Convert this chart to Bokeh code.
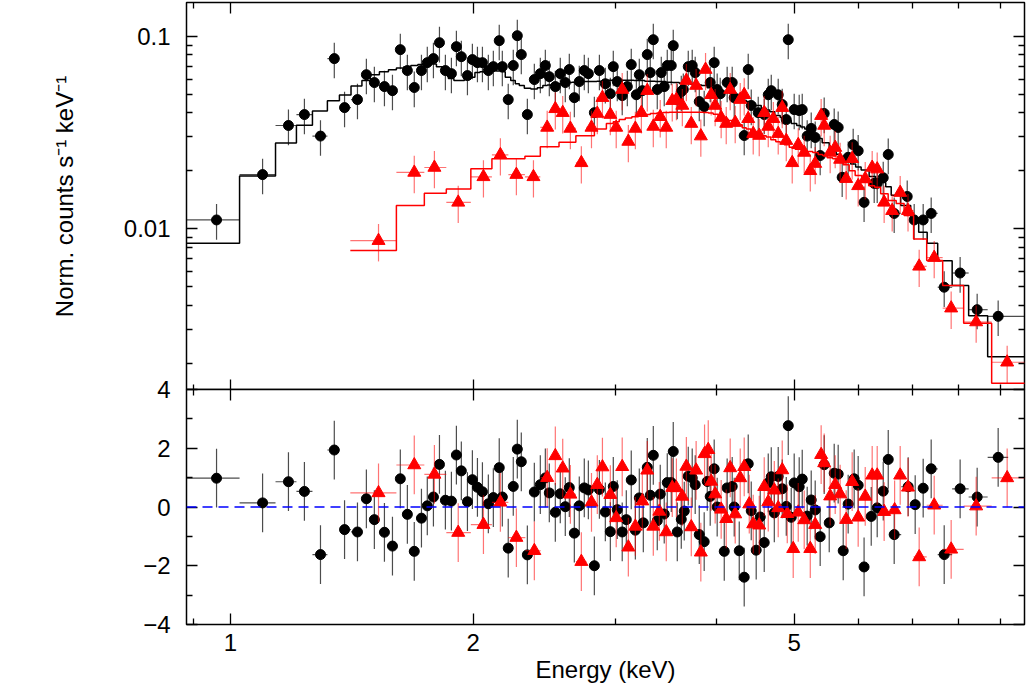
import numpy as np
from bokeh.plotting import figure
from bokeh.models import (LogAxis, LinearAxis, FixedTicker, CustomJSTickFormatter,
                          Span, Range1d, Label)
from bokeh.layouts import column
from bokeh.embed import file_html
from bokeh.resources import INLINE

FONT = "Liberation Sans"
FS = "24px"

# ---------------- axis ticks ----------------
x_major = [1, 2, 5]
x_minor = [0.9, 3, 4, 6, 7, 8, 9]
y_major = [0.01, 0.1]
y_minor = [0.002, 0.003, 0.004, 0.005, 0.006, 0.007, 0.008, 0.009,
           0.02, 0.03, 0.04, 0.05, 0.06, 0.07, 0.08, 0.09]
r_major = [-4, -2, 0, 2, 4]
r_minor = [-3, -1, 1, 3]

# ---------------- spectrum 1 (black) ----------------
black_E = [0.961, 1.096, 1.180, 1.235, 1.293, 1.345, 1.385, 1.437, 1.474, 1.508,
           1.552, 1.588, 1.624, 1.657, 1.690, 1.725, 1.754, 1.785, 1.816, 1.847,
           1.879, 1.906, 1.933, 1.967, 1.995, 2.024, 2.053, 2.088, 2.118, 2.154,
           2.173, 2.210, 2.242, 2.268, 2.294, 2.334, 2.381, 2.422, 2.457, 2.485,
           2.528, 2.564, 2.601, 2.631, 2.669, 2.707, 2.746, 2.778, 2.826, 2.867,
           2.916, 2.958, 2.983, 3.017, 3.060, 3.105, 3.140, 3.186, 3.213, 3.241,
           3.287, 3.315, 3.344, 3.382, 3.421, 3.450, 3.480, 3.520, 3.540, 3.581,
           3.622, 3.643, 3.695, 3.737, 3.769, 3.813, 3.867, 3.934, 3.979, 4.013,
           4.048, 4.129, 4.189, 4.213, 4.335, 4.385, 4.423, 4.512, 4.590, 4.643,
           4.683, 4.777, 4.832, 4.888, 4.916, 5.000, 5.072, 5.116, 5.189, 5.249,
           5.309, 5.385, 5.447, 5.605, 5.669, 5.734, 5.833, 5.917, 6.002, 6.104,
           6.283, 6.337, 6.447, 6.540, 6.652, 6.904, 7.043, 7.226, 7.393, 7.673,
           8.030, 8.430, 8.951]
black_F = [0.0111, 0.0191, 0.0344, 0.0392, 0.0303, 0.0766, 0.0426, 0.0469, 0.0632, 0.0575,
           0.0548, 0.0522, 0.0853, 0.0664, 0.0542, 0.0664, 0.0730, 0.0766, 0.0927, 0.0664,
           0.0640, 0.0884, 0.0784, 0.0625, 0.0757, 0.0730, 0.0730, 0.0664, 0.0696, 0.0950,
           0.0696, 0.0469, 0.0705, 0.1008, 0.0804, 0.0392, 0.0596, 0.0640, 0.0705, 0.0617,
           0.0548, 0.0640, 0.0575, 0.0672, 0.0480, 0.0582, 0.0664, 0.0640, 0.0401, 0.0664,
           0.0567, 0.0503, 0.0696, 0.0582, 0.0492, 0.0548, 0.0713, 0.0497, 0.0632, 0.0522,
           0.0804, 0.0648, 0.0961, 0.0529, 0.0648, 0.0548, 0.0705, 0.0705, 0.0895, 0.0469,
           0.0516, 0.0529, 0.0696, 0.0705, 0.0648, 0.0458, 0.0431, 0.0575, 0.0730, 0.0529,
           0.0503, 0.0575, 0.0575, 0.0480, 0.0305, 0.0672, 0.0437, 0.0401, 0.0392, 0.0497,
           0.0522, 0.0497, 0.0442, 0.0369, 0.0961, 0.0416, 0.0411, 0.0416, 0.0303, 0.0332,
           0.0298, 0.0240, 0.0397, 0.0348, 0.0336, 0.0185, 0.0235, 0.0273, 0.0254, 0.0137,
           0.0172, 0.0172, 0.0184, 0.0243, 0.0120, 0.0147, 0.0111, 0.0111, 0.0120, 0.00496,
           0.00588, 0.00379, 0.00350]
black_M = [0.00840, 0.0188, 0.0279, 0.0345, 0.0409, 0.0462, 0.0496, 0.0552, 0.0589, 0.0632,
           0.0655, 0.0671, 0.0684, 0.0696, 0.0705, 0.0713, 0.0719, 0.0719, 0.0696, 0.0650,
           0.0603, 0.0589, 0.0589, 0.0603, 0.0612, 0.0648, 0.0655, 0.0664, 0.0664, 0.0660,
           0.0655, 0.0612, 0.0589, 0.0567, 0.0555, 0.0538, 0.0533, 0.0541, 0.0555, 0.0558,
           0.0564, 0.0567, 0.0575, 0.0575, 0.0578, 0.0578, 0.0582, 0.0582, 0.0582, 0.0585,
           0.0589, 0.0592, 0.0592, 0.0592, 0.0592, 0.0592, 0.0592, 0.0589, 0.0589, 0.0589,
           0.0585, 0.0585, 0.0585, 0.0582, 0.0582, 0.0582, 0.0578, 0.0578, 0.0575, 0.0575,
           0.0571, 0.0571, 0.0570, 0.0564, 0.0561, 0.0558, 0.0555, 0.0541, 0.0535, 0.0529,
           0.0522, 0.0510, 0.0504, 0.0498, 0.0466, 0.0458, 0.0450, 0.0437, 0.0423, 0.0414,
           0.0406, 0.0388, 0.0379, 0.0369, 0.0365, 0.0352, 0.0344, 0.0338, 0.0330, 0.0320,
           0.0309, 0.0294, 0.0280, 0.0252, 0.0244, 0.0237, 0.0226, 0.0217, 0.0209, 0.0202,
           0.0187, 0.0182, 0.0174, 0.0165, 0.0149, 0.0132, 0.0108, 0.00959, 0.00840, 0.00680,
           0.00507, 0.00352, 0.00216]
black_rel_err = 0.21
black_lo_edge, black_hi_edge = 0.877, 9.8

# ---------------- spectrum 2 (red) ----------------
red_E = [1.526, 1.690, 1.790, 1.916, 2.059, 2.161, 2.262, 2.375, 2.470, 2.528,
         2.582, 2.639, 2.723, 2.803, 2.850, 2.892, 2.958, 3.008, 3.060, 3.114,
         3.177, 3.232, 3.287, 3.344, 3.411, 3.470, 3.530, 3.572, 3.633, 3.675,
         3.727, 3.779, 3.830, 3.882, 3.945, 3.990, 4.059, 4.118, 4.165, 4.225,
         4.286, 4.335, 4.385, 4.448, 4.525, 4.590, 4.643, 4.711, 4.777, 4.832,
         4.888, 4.972, 5.058, 5.145, 5.235, 5.309, 5.400, 5.447, 5.541, 5.621,
         5.701, 5.800, 5.900, 6.002, 6.124, 6.247, 6.337, 6.464, 6.614, 6.767,
         6.920, 7.144, 7.457, 7.827, 8.406, 9.184]
red_F = [0.00866, 0.0196, 0.0208, 0.0137, 0.0186, 0.0242, 0.0191, 0.0186, 0.0336, 0.0420,
         0.0401, 0.0332, 0.0220, 0.0336, 0.0397, 0.0480, 0.0392, 0.0336, 0.0529, 0.0284,
         0.0332, 0.0401, 0.0522, 0.0340, 0.0382, 0.0336, 0.0463, 0.0469, 0.0437, 0.0589,
         0.0352, 0.0555, 0.0303, 0.0672, 0.0497, 0.0437, 0.0378, 0.0352, 0.0529, 0.0356,
         0.0469, 0.0497, 0.0373, 0.0312, 0.0305, 0.0401, 0.0340, 0.0373, 0.0312, 0.0426,
         0.0287, 0.0220, 0.0273, 0.0249, 0.0200, 0.0218, 0.0387, 0.0344, 0.0249, 0.0264,
         0.0229, 0.0182, 0.0231, 0.0167, 0.0182, 0.0208, 0.0204, 0.0137, 0.0124, 0.0154,
         0.0124, 0.00637, 0.00707, 0.00386, 0.00327, 0.00202]
red_M = [0.00770, 0.0132, 0.0153, 0.0161, 0.0205, 0.0231, 0.0231, 0.0238, 0.0267, 0.0267,
         0.0281, 0.0281, 0.0304, 0.0304, 0.0330, 0.0330, 0.0352, 0.0360, 0.0369, 0.0376,
         0.0382, 0.0387, 0.0392, 0.0397, 0.0400, 0.0402, 0.0403, 0.0403, 0.0403, 0.0403,
         0.0403, 0.0403, 0.0403, 0.0402, 0.0400, 0.0394, 0.0382, 0.0371, 0.0365, 0.0356,
         0.0347, 0.0335, 0.0330, 0.0320, 0.0312, 0.0304, 0.0300, 0.0290, 0.0283, 0.0278,
         0.0273, 0.0265, 0.0259, 0.0255, 0.0252, 0.0249, 0.0243, 0.0240, 0.0234, 0.0231,
         0.0226, 0.0215, 0.0200, 0.0189, 0.0174, 0.0167, 0.0164, 0.0152, 0.0140, 0.0135,
         0.0117, 0.00884, 0.00683, 0.00507, 0.00322, 0.00157]
red_rel_err = 0.22
red_lo_edge, red_hi_edge = 1.408, 9.8

# ---------------- residuals (sigma) ----------------
bres_E = [0.961, 1.096, 1.180, 1.235, 1.293, 1.345, 1.385, 1.437, 1.474, 1.508,
          1.552, 1.588, 1.624, 1.657, 1.690, 1.725, 1.754, 1.785, 1.816, 1.847,
          1.879, 1.906, 1.933, 1.967, 1.995, 2.024, 2.053, 2.088, 2.118, 2.154,
          2.173, 2.210, 2.242, 2.268, 2.294, 2.334, 2.381, 2.422, 2.457, 2.485,
          2.528, 2.564, 2.601, 2.631, 2.669, 2.707, 2.746, 2.778, 2.826, 2.867,
          2.916, 2.958, 2.983, 3.017, 3.060, 3.096, 3.140, 3.177, 3.213, 3.250,
          3.287, 3.315, 3.344, 3.382, 3.411, 3.450, 3.480, 3.520, 3.540, 3.581,
          3.622, 3.653, 3.695, 3.737, 3.769, 3.813, 3.867, 3.901, 3.934, 3.979,
          4.013, 4.095, 4.129, 4.189, 4.213, 4.274, 4.335, 4.385, 4.423, 4.486,
          4.538, 4.590, 4.643, 4.683, 4.724, 4.777, 4.832, 4.888, 4.916, 4.958,
          5.000, 5.072, 5.116, 5.189, 5.249, 5.309, 5.385, 5.447, 5.526, 5.605,
          5.669, 5.751, 5.833, 5.934, 6.002, 6.104, 6.230, 6.337, 6.447, 6.540,
          6.652, 6.923, 7.063, 7.226, 7.393, 7.673, 8.030, 8.430, 8.951]
bres_S = [0.98, 0.14, 0.86, 0.53, -1.62, 1.94, -0.77, -0.85, 0.28, -0.43,
          -0.86, -1.33, 0.96, -0.25, -1.51, -0.38, 0.04, 0.34, 1.45, 0.23,
          0.20, 1.77, 1.23, 0.18, 0.93, 0.67, 0.52, 0.11, 0.32, 1.34,
          0.34, -1.40, 0.70, 1.97, 1.54, -1.63, 0.51, 0.76, 0.99, 0.48,
          -0.18, 0.45, 0.01, 0.66, -0.89, 0.04, 0.65, 0.58, -2.00, 0.60,
          -0.17, -0.84, 0.70, -0.09, -0.85, -0.43, 0.92, -0.79, 0.31, -0.54,
          1.35, 0.40, 1.76, -0.47, 0.44, -0.24, 0.83, 0.83, 1.89, -0.85,
          -0.42, -0.14, 1.05, 0.99, 0.76, -0.94, -1.18, 0.87, 0.36, 1.30,
          0.00, -1.51, 0.65, 0.70, 0.00, -1.49, -2.39, 1.47, -0.13, -1.47,
          -0.34, -1.21, 0.82, 1.03, -0.20, 1.04, 0.62, 0.02, 2.77, -0.35,
          0.82, 0.69, 0.95, -0.31, 0.24, -0.10, -1.01, 1.44, -0.54, 1.15,
          1.12, -1.49, 0.10, 0.96, 0.74, -2.04, -0.32, -0.03, 0.54, 1.62,
          -0.94, 0.69, 0.08, 0.64, 1.30, -1.62, 0.62, 0.34, 1.69]
bres_lo_edge, bres_hi_edge = 0.877, 9.21

rres_E = [1.526, 1.690, 1.790, 1.916, 2.059, 2.161, 2.262, 2.381, 2.470, 2.528,
          2.582, 2.639, 2.723, 2.803, 2.850, 2.892, 2.958, 3.008, 3.060, 3.114,
          3.177, 3.241, 3.287, 3.344, 3.402, 3.470, 3.530, 3.572, 3.633, 3.675,
          3.727, 3.779, 3.830, 3.871, 3.912, 3.945, 3.990, 4.059, 4.118, 4.165,
          4.225, 4.286, 4.335, 4.398, 4.448, 4.525, 4.590, 4.643, 4.724, 4.777,
          4.832, 4.902, 4.986, 5.058, 5.145, 5.235, 5.309, 5.400, 5.447, 5.541,
          5.621, 5.701, 5.800, 5.900, 6.002, 6.124, 6.247, 6.337, 6.464, 6.660,
          6.767, 6.920, 7.144, 7.457, 7.827, 8.406, 9.184]
rres_S = [0.48, 1.43, 1.11, -0.87, -0.60, 0.16, -1.04, -1.49, 1.00, 1.74,
          1.32, 0.43, -1.86, 0.16, 0.76, 1.36, 0.42, -0.37, 1.37, -1.37,
          -0.66, 0.20, 1.25, -0.66, -0.15, -0.85, 0.66, 0.65, 0.36, 1.38,
          -0.68, 1.25, -1.54, 1.81, 1.95, 0.87, 0.44, -0.08, -0.40, 1.33,
          -0.24, 0.99, 1.37, 0.10, -0.58, -0.62, 0.69, 0.17, 0.57, -0.03,
          1.26, -0.23, -1.42, -0.18, -0.44, -1.42, -0.60, 1.78, 1.50, 0.37,
          0.76, 0.44, -0.43, 0.86, -0.35, 0.36, 1.08, 1.08, -0.16, -0.10,
          1.08, 0.67, -1.70, 0.06, -1.44, 0.03, 0.99]
rres_lo_edge, rres_hi_edge = 1.408, 9.8


def bin_edges(centers, lo0, hi_last):
    c = np.asarray(centers, float)
    mid = np.sqrt(c[:-1] * c[1:])
    return np.r_[lo0, mid], np.r_[mid, hi_last]


def style_axis(ax, labels=True):
    ax.major_tick_in = 11
    ax.major_tick_out = 0
    ax.minor_tick_in = 6
    ax.minor_tick_out = 0
    ax.major_tick_line_color = "black"
    ax.minor_tick_line_color = "black"
    ax.major_tick_line_width = 1.3
    ax.minor_tick_line_width = 1.3
    ax.axis_line_color = None
    ax.major_label_text_font = FONT
    ax.major_label_text_font_size = FS
    ax.major_label_text_color = "black"
    ax.axis_label_text_font = FONT
    ax.axis_label_text_font_size = FS
    ax.axis_label_text_font_style = "normal"
    ax.axis_label_text_color = "black"
    if not labels:
        ax.major_label_text_font_size = "1px"
        ax.major_label_text_color = None
        ax.major_label_standoff = 0


def xticker():
    return FixedTicker(ticks=x_major, minor_ticks=x_minor)


x_range = Range1d(0.882, 9.65)
FRAME_W = 838

# ================= top panel =================
p1 = figure(frame_width=FRAME_W, frame_height=388, x_axis_type="log", y_axis_type="log",
            x_range=x_range, y_range=Range1d(0.00144, 0.15),
            output_backend="svg", toolbar_location=None,
            min_border_left=186, min_border_right=2, min_border_top=2, min_border_bottom=0)
p1.grid.visible = False
p1.outline_line_color = "black"
p1.outline_line_width = 1.5
p1.background_fill_color = "white"
p1.border_fill_color = "white"

p1.yaxis[0].ticker = FixedTicker(ticks=y_major, minor_ticks=y_minor)
p1.yaxis[0].formatter = CustomJSTickFormatter(code="return tick.toString();")
style_axis(p1.yaxis[0])
p1.yaxis[0].major_label_standoff = 16
p1.yaxis[0].axis_label = "Norm. counts s\u207b\u00b9 keV\u207b\u00b9"
p1.yaxis[0].axis_label_standoff = 43

p1.xaxis[0].ticker = xticker()
style_axis(p1.xaxis[0], labels=False)

ax = LogAxis(ticker=xticker())
style_axis(ax, labels=False)
p1.add_layout(ax, "above")
ax = LogAxis(ticker=FixedTicker(ticks=y_major, minor_ticks=y_minor))
style_axis(ax, labels=False)
p1.add_layout(ax, "right")

bE = np.array(black_E); bF = np.array(black_F); bM = np.array(black_M)
blo, bhi = bin_edges(bE, black_lo_edge, black_hi_edge)
rE = np.array(red_E); rF = np.array(red_F); rM = np.array(red_M)
rlo, rhi = bin_edges(rE, red_lo_edge, red_hi_edge)

# black spectrum
p1.segment(bE, bF * (1 - black_rel_err), bE, bF * (1 + black_rel_err),
           line_color="black", line_alpha=0.7, line_width=1.2)
p1.segment(blo, bF, bhi, bF, line_color="black", line_alpha=0.7, line_width=1.2)
p1.line(np.column_stack([blo, bhi]).ravel(), np.repeat(bM, 2),
        line_color="black", line_width=1.5)
p1.scatter(bE, bF, marker="circle", size=10, fill_color="black", line_color="black")

# red spectrum
p1.segment(rE, rF * (1 - red_rel_err), rE, rF * (1 + red_rel_err),
           line_color="red", line_alpha=0.55, line_width=1.2)
p1.segment(rlo, rF, rhi, rF, line_color="red", line_alpha=0.55, line_width=1.2)
p1.line(np.column_stack([rlo, rhi]).ravel(), np.repeat(rM, 2),
        line_color="red", line_width=1.5)
p1.scatter(rE, rF, marker="triangle", size=13, fill_color="red", line_color="red")

# ================= residual panel =================
p2 = figure(frame_width=FRAME_W, frame_height=235, x_axis_type="log",
            x_range=x_range, y_range=Range1d(-4, 4),
            output_backend="svg", toolbar_location=None,
            min_border_left=186, min_border_right=2, min_border_top=14, min_border_bottom=0)
p2.styles = {"margin-top": "-15px"}
p2.grid.visible = False
p2.outline_line_color = "black"
p2.outline_line_width = 1.5
p2.background_fill_color = "white"
p2.border_fill_color = None

p2.yaxis[0].ticker = FixedTicker(ticks=r_major, minor_ticks=r_minor)
p2.yaxis[0].formatter = CustomJSTickFormatter(
    code="return tick < 0 ? '\\u2212' + Math.abs(tick) : String(tick);")
style_axis(p2.yaxis[0])
p2.yaxis[0].major_label_standoff = 16

p2.add_layout(Label(x=0.62, y=0, text="\u03c3", text_font=FONT, text_font_size=FS,
                    text_align="center", text_baseline="middle", text_color="black"))

p2.xaxis[0].ticker = xticker()
p2.xaxis[0].formatter = CustomJSTickFormatter(code="return tick.toString();")
style_axis(p2.xaxis[0])
p2.xaxis[0].major_label_standoff = 9
p2.xaxis[0].axis_label = "Energy (keV)"
p2.xaxis[0].axis_label_standoff = 2

ax = LogAxis(ticker=xticker())
style_axis(ax, labels=False)
p2.add_layout(ax, "above")
ax = LinearAxis(ticker=FixedTicker(ticks=r_major, minor_ticks=r_minor))
style_axis(ax, labels=False)
p2.add_layout(ax, "right")

p2.add_layout(Span(location=0, dimension="width", line_color="#0000ff",
                   line_dash="10 6", line_width=1.5))

brE = np.array(bres_E); brS = np.array(bres_S)
brlo, brhi = bin_edges(brE, bres_lo_edge, bres_hi_edge)
rrE = np.array(rres_E); rrS = np.array(rres_S)
rrlo, rrhi = bin_edges(rrE, rres_lo_edge, rres_hi_edge)

p2.segment(brE, brS - 1, brE, brS + 1, line_color="black", line_alpha=0.7, line_width=1.2)
p2.segment(brlo, brS, brhi, brS, line_color="black", line_alpha=0.7, line_width=1.2)
p2.scatter(brE, brS, marker="circle", size=10, fill_color="black", line_color="black")

p2.segment(rrE, rrS - 1, rrE, rrS + 1, line_color="red", line_alpha=0.55, line_width=1.2)
p2.segment(rrlo, rrS, rrhi, rrS, line_color="red", line_alpha=0.55, line_width=1.2)
p2.scatter(rrE, rrS, marker="triangle", size=13, fill_color="red", line_color="red")

layout = column(p1, p2)
open("out.html", "w").write(file_html(layout, INLINE))
